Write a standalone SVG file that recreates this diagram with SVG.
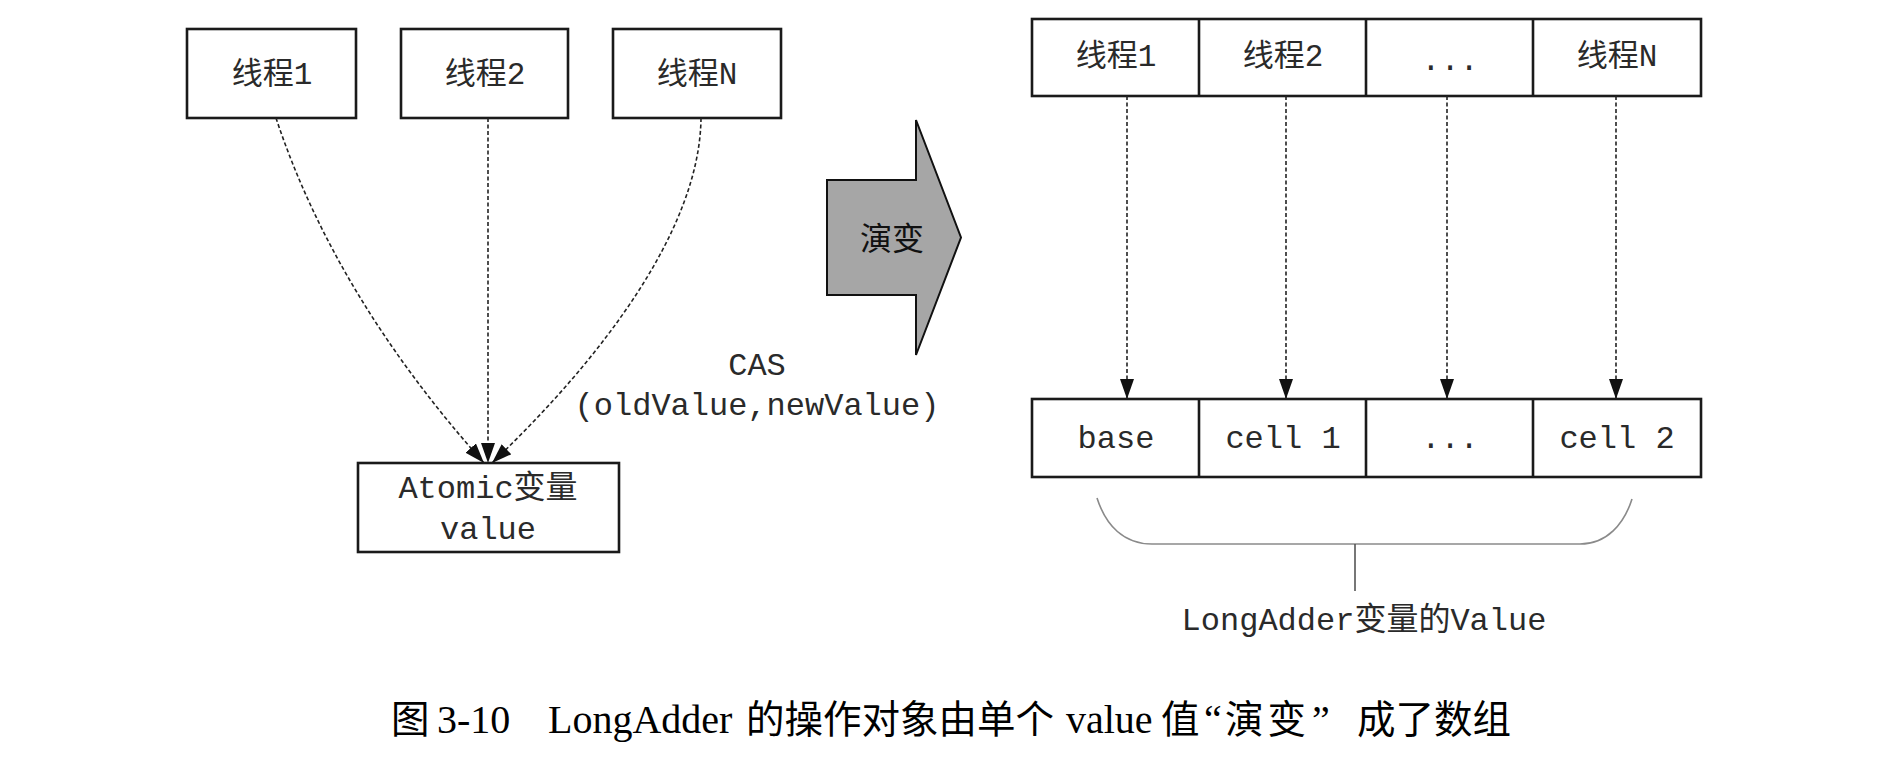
<svg xmlns="http://www.w3.org/2000/svg" width="1878" height="770" viewBox="0 0 1878 770">
  <style>
    .box { fill: #ffffff; stroke: #1a1a1a; stroke-width: 2.6; }
    .div { stroke: #1a1a1a; stroke-width: 2.6; fill: none; }
    .mono { font-family: "Liberation Mono", "Noto Sans CJK SC", monospace; font-size: 32px; fill: #2a2a2a; text-anchor: middle; }
    .thr { font-family: "Liberation Mono", "Noto Sans CJK SC", monospace; font-size: 31px; fill: #2a2a2a; text-anchor: middle; }
    .dash { fill: none; stroke: #222; stroke-width: 1.6; stroke-dasharray: 4 2.5; }
    .brace { fill: none; stroke: #8a8a8a; stroke-width: 1.6; }
    .cap { font-family: "Liberation Serif", "Noto Sans CJK SC", serif; font-size: 40px; fill: #000; }
    .capcjk { font-family: "Noto Sans CJK SC", "Liberation Serif", sans-serif; font-size: 38.5px; }
  </style>
  <defs>
    <marker id="arr" viewBox="0 0 20 14" refX="20" refY="7" markerWidth="20" markerHeight="14" markerUnits="userSpaceOnUse" orient="auto">
      <path d="M0,0 L20,7 L0,14 z" fill="#111"/>
    </marker>
  </defs>
  <rect width="1878" height="770" fill="#ffffff"/>

  <!-- Left side nodes -->
  <g id="t1">
    <rect class="box" x="187" y="29" width="169" height="89"/>
    <text class="thr" x="272" y="84">线程1</text>
  </g>
  <g id="t2">
    <rect class="box" x="401" y="29" width="167" height="89"/>
    <text class="thr" x="485" y="84">线程2</text>
  </g>
  <g id="tN">
    <rect class="box" x="613" y="29" width="168" height="89"/>
    <text class="thr" x="697" y="84">线程N</text>
  </g>
  <g id="atomic">
    <rect class="box" x="358" y="463" width="261" height="89"/>
    <text class="mono" x="488" y="498">Atomic变量</text>
    <text class="mono" x="488" y="539">value</text>
  </g>
  <g id="cas">
    <text class="mono" x="757" y="375">CAS</text>
    <text class="mono" x="757" y="415">(oldValue,newValue)</text>
  </g>

  <!-- Evolution arrow -->
  <g id="evolve">
    <polygon points="827,180 916,180 916,120 961,237.5 916,355 916,295 827,295" fill="#a6a6a6" stroke="#111" stroke-width="2"/>
    <text x="892" y="250" font-family="Noto Sans CJK SC, sans-serif" font-size="32" fill="#111" text-anchor="middle">演变</text>
  </g>

  <!-- Right side top row -->
  <g id="threads">
    <rect class="box" x="1032" y="19" width="669" height="77"/>
    <line class="div" x1="1199" y1="19" x2="1199" y2="96"/>
    <line class="div" x1="1366" y1="19" x2="1366" y2="96"/>
    <line class="div" x1="1533" y1="19" x2="1533" y2="96"/>
    <text class="thr" x="1116" y="66">线程1</text>
    <text class="thr" x="1283" y="66">线程2</text>
    <text class="mono" x="1450" y="70">...</text>
    <text class="thr" x="1617" y="66">线程N</text>
  </g>

  <!-- Right side bottom row -->
  <g id="cells">
    <rect class="box" x="1032" y="399" width="669" height="78"/>
    <line class="div" x1="1199" y1="399" x2="1199" y2="477"/>
    <line class="div" x1="1366" y1="399" x2="1366" y2="477"/>
    <line class="div" x1="1533" y1="399" x2="1533" y2="477"/>
    <text class="mono" x="1116" y="448">base</text>
    <text class="mono" x="1283" y="448">cell 1</text>
    <text class="mono" x="1450" y="448">...</text>
    <text class="mono" x="1617" y="448">cell 2</text>
  </g>

  <!-- Brace and label -->
  <g id="longadder-value">
    <path class="brace" d="M1097,498 C1106,526 1124,544 1152,544 L1580,544 C1607,544 1624,524 1632,499"/>
    <line x1="1355" y1="544" x2="1355" y2="591" stroke="#555" stroke-width="1.6"/>
    <text class="mono" x="1364" y="630">LongAdder变量的Value</text>
  </g>

  <!-- Connectors -->
  <g id="connectors">
    <path class="dash" d="M276,118 Q335,296 484,463" marker-end="url(#arr)"/>
    <path class="dash" d="M488,118 L488,463" marker-end="url(#arr)"/>
    <path class="dash" d="M701,118 C700,230 600,360 492,463" marker-end="url(#arr)"/>
    <path class="dash" d="M1127,96 L1127,399" marker-end="url(#arr)"/>
    <path class="dash" d="M1286,96 L1286,399" marker-end="url(#arr)"/>
    <path class="dash" d="M1447,96 L1447,399" marker-end="url(#arr)"/>
    <path class="dash" d="M1616,96 L1616,399" marker-end="url(#arr)"/>
  </g>

  <!-- Caption -->
  <g id="caption">
    <text class="cap" y="733"><tspan class="capcjk" x="391">图</tspan><tspan x="437">3-10</tspan><tspan x="548">LongAdder</tspan><tspan class="capcjk" x="746">的操作对象由单个</tspan><tspan x="1066">value</tspan><tspan class="capcjk" x="1161">值</tspan><tspan x="1204">“</tspan><tspan class="capcjk" x="1225" letter-spacing="4">演变</tspan><tspan x="1312">”</tspan><tspan class="capcjk" x="1357">成了数组</tspan></text>
  </g>
</svg>
